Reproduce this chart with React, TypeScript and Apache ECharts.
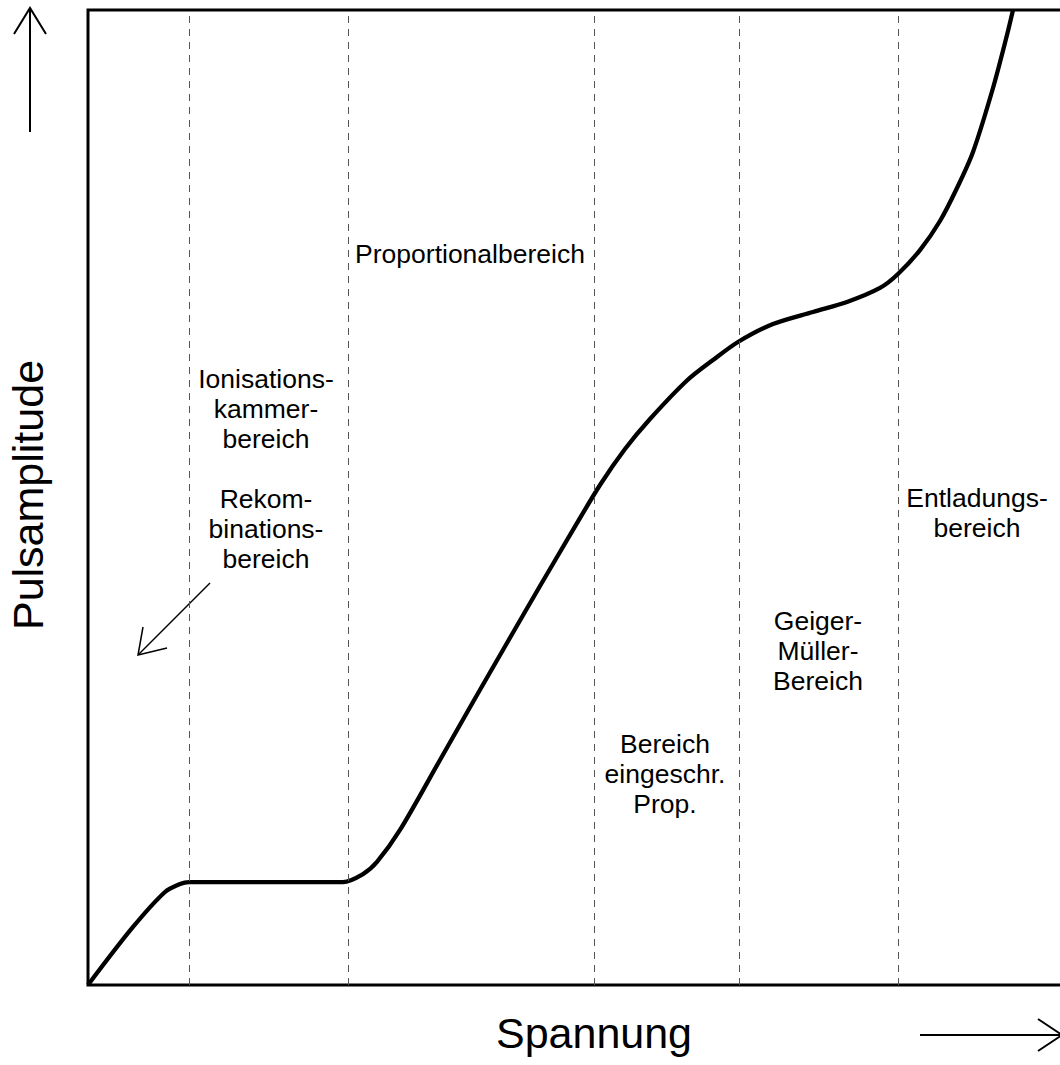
import React, { useEffect, useRef } from "react";
import * as echarts from "echarts";

// Region boundaries on the Spannung axis (arbitrary units 0..100)
const regionBoundaries = [10.1, 26.0, 50.6, 65.1, 81.0];

// Curve: Pulsamplitude vs Spannung (arbitrary units)
const spannung = [0, 4.5, 7.7, 9.2, 10.1, 15.2, 20.2, 25.5, 27.5, 28.9, 31.2, 35.2, 38.5, 41.9, 45.2, 48.5, 51.2, 53.7, 56.2, 59.9, 62.5, 65.0, 68.5, 72.5, 75.9, 79.2, 81.0, 83.2, 85.2, 86.9, 88.5, 90.5, 91.9, 92.5];
const pulsamplitude = [0, 5.95, 9.54, 10.36, 10.56, 10.56, 10.56, 10.56, 11.38, 12.62, 15.9, 23.08, 29.03, 35.08, 40.92, 46.67, 51.28, 54.97, 58.05, 62.0, 64.1, 65.95, 67.79, 69.03, 70.05, 71.49, 72.92, 75.38, 78.36, 81.74, 85.44, 92.0, 97.44, 100];

// Texts
const xAxisTitle = "Spannung";
const yAxisTitle = "Pulsamplitude";
const regionLabels = [
  "Ionisations-\nkammer-\nbereich",
  "Rekom-\nbinations-\nbereich",
  "Proportionalbereich",
  "Bereich\neingeschr.\nProp.",
  "Geiger-\nMüller-\nBereich",
  "Entladungs-\nbereich",
];

// Layout (pixel centers of the label blocks)
const labelLayout = [
  { x: 266, y: 409 },
  { x: 266, y: 529 },
  { x: 470, y: 254 },
  { x: 665, y: 774 },
  { x: 818, y: 651 },
  { x: 977, y: 513 },
];

const FONT = '"Liberation Sans", Arial, sans-serif';

export default function App() {
  const ref = useRef<HTMLDivElement>(null);
  useEffect(() => {
    document.body.style.margin = "0";
    document.body.style.overflow = "hidden";
    const chart = echarts.init(ref.current!, null, { renderer: "svg" });
    const curve = spannung.map((x, i) => [x, pulsamplitude[i]]);
    const arrowStyle = { stroke: "#000", lineWidth: 2, fill: null };
    chart.setOption({
      animation: false,
      backgroundColor: "#fff",
      grid: {
        left: 88,
        top: 10,
        width: 1000,
        height: 975,
        show: true,
        borderColor: "#000",
        borderWidth: 3,
        backgroundColor: "transparent",
      },
      xAxis: {
        type: "value",
        min: 0,
        max: 100,
        axisLine: { show: false },
        axisTick: { show: false },
        axisLabel: { show: false },
        splitLine: { show: false },
      },
      yAxis: {
        type: "value",
        min: 0,
        max: 100,
        axisLine: { show: false },
        axisTick: { show: false },
        axisLabel: { show: false },
        splitLine: { show: false },
      },
      series: [
        {
          type: "line",
          data: [],
          z: 1,
          markLine: {
            silent: true,
            symbol: "none",
            label: { show: false },
            lineStyle: { type: [7, 6], color: "#555", width: 1 },
            data: regionBoundaries.map((v) => ({ xAxis: v })),
          },
        },
        {
          type: "line",
          data: curve,
          z: 3,
          smooth: 0.3,
          showSymbol: false,
          symbol: "none",
          lineStyle: { color: "#000", width: 4.3 },
          clip: true,
        },
      ],
      graphic: [
        // y-axis arrow
        { type: "line", shape: { x1: 30, y1: 132, x2: 30, y2: 9 }, style: arrowStyle },
        { type: "polyline", shape: { points: [[14, 34], [30, 8], [46, 34]] }, style: arrowStyle },
        // x-axis arrow
        { type: "line", shape: { x1: 920, y1: 1035, x2: 1061, y2: 1035 }, style: arrowStyle },
        { type: "polyline", shape: { points: [[1038, 1019], [1062, 1035], [1038, 1051]] }, style: arrowStyle },
        // Rekombination arrow
        { type: "line", shape: { x1: 210, y1: 583, x2: 139, y2: 654 }, style: { stroke: "#000", lineWidth: 1.5 } },
        { type: "polyline", shape: { points: [[143, 627], [138, 655], [167, 648]] }, style: { stroke: "#000", lineWidth: 1.5, fill: null } },
        // axis titles
        {
          type: "text",
          x: 594,
          y: 1033,
          style: { text: xAxisTitle, font: `43px ${FONT}`, fill: "#000", textAlign: "center", textVerticalAlign: "middle" },
        },
        {
          type: "text",
          x: 28,
          y: 495,
          rotation: Math.PI / 2,
          style: { text: yAxisTitle, font: `43px ${FONT}`, fill: "#000", textAlign: "center", textVerticalAlign: "middle" },
        },
        // region labels
        ...regionLabels.map((t, i) => ({
          type: "text",
          x: labelLayout[i].x,
          y: labelLayout[i].y,
          z: 10,
          style: {
            text: t,
            font: `26.5px ${FONT}`,
            fill: "#000",
            textAlign: "center",
            textVerticalAlign: "middle",
            lineHeight: 30,
          },
        })),
      ],
    });
    return () => chart.dispose();
  }, []);
  return (
    <div style={{ width: 1060, height: 1065, overflow: "hidden" }}>
      <div ref={ref} style={{ width: 1120, height: 1065 }} />
    </div>
  );
}
